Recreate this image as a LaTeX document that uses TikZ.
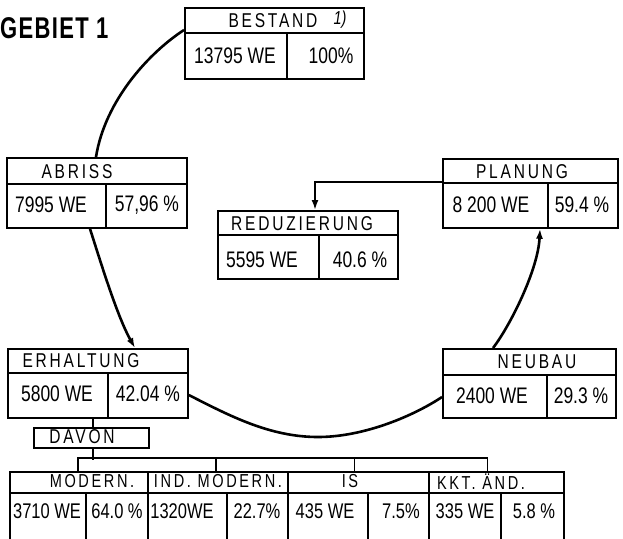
\documentclass[tikz,border=0pt]{standalone}
\usepackage{fontspec}
\usepackage{graphicx}
\setmainfont{Liberation Sans}
\newfontfamily\hdrfont[LetterSpace=18]{Liberation Sans}
\newfontfamily\titlefont[LetterSpace=6]{Liberation Sans}
\usetikzlibrary{arrows.meta,calc}

% hand lettering is taller and narrower than the font
\newcommand\tall[1]{\scalebox{0.97}[1.25]{#1}}

\tikzset{
  frame/.style={draw, line width=1.8pt, inner sep=0pt, anchor=north west},
  rule/.style={line width=1.4pt},
  bus/.style={line width=1.8pt},
  link/.style={line width=2.6pt},
  tip/.style={-{Latex[length=10pt,width=7pt]}},
  head/.style={font={\hdrfont\fontsize{16}{16}\selectfont}, inner sep=0pt},
  val/.style={font={\fontsize{18}{18}\selectfont}, inner sep=0pt},
  thead/.style={font={\hdrfont\fontsize{15}{15}\selectfont}, inner sep=0pt},
  tval/.style={font={\fontsize{17}{17}\selectfont}, inner sep=0pt},
}

% name, x, y, width, height, header rule offset, divider offset
\newcommand\tallybox[7]{%
  \node[frame, minimum width=#4pt, minimum height=#5pt] (#1) at (#2,#3) {};
  \draw[rule] ($(#1.north west)+(0,#6)$) -- ($(#1.north east)+(0,#6)$);
  \draw[rule] ($(#1.north west)+(#7,#6)$) -- ($(#1.south west)+(#7,0)$);
}

\begin{document}
\begin{tikzpicture}[x=1pt,y=-1pt]
\useasboundingbox (0,0) rectangle (623,538);
\clip (0,0) rectangle (623,538);

% title
\node[font={\titlefont\bfseries\fontsize{25}{25}\selectfont}, inner sep=0pt, anchor=west] (title) at (0,28) {\scalebox{0.88}[1.2]{GEBIET 1}};

% the six tally boxes
\tallybox{bes}{184}{7}{179}{71}{26}{103}
\tallybox{abr}{6}{157}{180}{70}{27}{100}
\tallybox{red}{217}{210}{180}{68}{25}{102}
\tallybox{pla}{442}{158}{175}{69}{25}{106}
\tallybox{erh}{7}{348}{180}{69}{25}{101}
\tallybox{neu}{442}{348}{173}{69}{27}{105}

\node[head] (bes-h) at (273,21) {\tall{BESTAND}};
\node[inner sep=0pt, font={\fontsize{15}{15}\selectfont\itshape}] (bes-f) at (340,20) {\tall{1)}};
\node[val] (bes-a) at (235,56) {\tall{13795 WE}};
\node[val] (bes-b) at (331,56) {\tall{100\%}};

\node[head] (abr-h) at (77,172) {\tall{ABRISS}};
\node[val] (abr-a) at (51,205) {\tall{7995 WE}};
\node[val] (abr-b) at (147,205) {\tall{57,96 \%}};

\node[head] (red-h) at (302,224) {\tall{REDUZIERUNG}};
\node[val] (red-a) at (262,260) {\tall{5595 WE}};
\node[val] (red-b) at (360,260) {\tall{40.6 \%}};

\node[head] (pla-h) at (522,172) {\tall{PLANUNG}};
\node[val] (pla-a) at (491,205) {\tall{8 200 WE}};
\node[val] (pla-b) at (582,205) {\tall{59.4 \%}};

\node[head] (erh-h) at (81,361) {\tall{ERHALTUNG}};
\node[val] (erh-a) at (57,394) {\tall{5800 WE}};
\node[val] (erh-b) at (148,394) {\tall{42.04 \%}};

\node[head] (neu-h) at (537,362) {\tall{NEUBAU}};
\node[val] (neu-a) at (492,396) {\tall{2400 WE}};
\node[val] (neu-b) at (581,396) {\tall{29.3 \%}};

% cycle connectors
\draw[link] ($(bes.north west)+(0,23)$) .. controls (150,52) and (105,100) .. ($(abr.north west)+(90,0)$);
\draw[link,tip] ($(abr.south west)+(84,0)$) .. controls (100,260) and (117,316) .. ($(erh.north west)+(128,0)$);
\coordinate (low) at (318,437);
\draw[link] ($(erh.north east)+(0,47)$) .. controls (230,416) and (270,437) .. (low)
  .. controls (365,437) and (415,415) .. ($(neu.north west)+(0,49)$);
\draw[link,tip] ($(neu.north west)+(51,0)$) .. controls (510,326) and (538,270) .. ($(pla.south west)+(98,0)$);
\draw[link,tip] ($(pla.north west)+(0,24)$) -| ($(red.north west)+(98,0)$);

% breakdown of the retained stock
\node[frame, minimum width=115pt, minimum height=20pt] (dav) at (33,427) {};
\node[head] (dav-h) at (82,437) {\tall{DAVON}};

\node[frame, minimum width=138pt, minimum height=21pt] (hmod) at (9,471) {};
\node[frame, minimum width=140pt, minimum height=21pt] (hind) at (147,471) {};
\node[frame, minimum width=141pt, minimum height=21pt] (his) at (287,471) {};
\node[frame, minimum width=135pt, minimum height=21pt] (hkkt) at (428,471) {};

\node[frame, minimum width=76pt, minimum height=68pt] (c1) at (9,492) {};
\node[frame, minimum width=62pt, minimum height=68pt] (c2) at (85,492) {};
\node[frame, minimum width=79pt, minimum height=68pt] (c3) at (147,492) {};
\node[frame, minimum width=61pt, minimum height=68pt] (c4) at (226,492) {};
\node[frame, minimum width=80pt, minimum height=68pt] (c5) at (287,492) {};
\node[frame, minimum width=61pt, minimum height=68pt] (c6) at (367,492) {};
\node[frame, minimum width=72pt, minimum height=68pt] (c7) at (428,492) {};
\node[frame, minimum width=63pt, minimum height=68pt] (c8) at (500,492) {};

\draw[bus] ($(erh.south west)+(86,0)$) -- ($(dav.north west)+(60,0)$);
\draw[bus] ($(dav.south west)+(60,0)$) -- ($(dav.south west)+(60,11)$);
\draw[bus] ($(hmod.north)+(-1,0)$) |- ($(hkkt.north)+(-9,-13)$) -- ($(hkkt.north)+(-9,0)$);
\draw[bus] ($(hind.north)+(-2,0)$) -- ++(0,-13);
\draw[bus] ($(his.north)+(-4,0)$) -- ++(0,-13);

\node[thead] (hmod-t) at (92,481) {\tall{MODERN.}};
\node[thead] (hind-t) at (218,481) {\tall{IND. MODERN.}};
\node[thead] (his-t) at (350,481) {\tall{IS}};
\node[thead] (hkkt-t) at (481,482) {\tall{KKT. ÄND.}};

\node[tval] (c1-t) at (47,511) {\tall{3710 WE}};
\node[tval] (c2-t) at (117,511) {\tall{64.0 \%}};
\node[tval] (c3-t) at (182,511) {\tall{1320WE}};
\node[tval] (c4-t) at (257,511) {\tall{22.7\%}};
\node[tval] (c5-t) at (325,511) {\tall{435 WE}};
\node[tval] (c6-t) at (401,511) {\tall{7.5\%}};
\node[tval] (c7-t) at (465,511) {\tall{335 WE}};
\node[tval] (c8-t) at (534,511) {\tall{5.8 \%}};
\end{tikzpicture}
\end{document}
